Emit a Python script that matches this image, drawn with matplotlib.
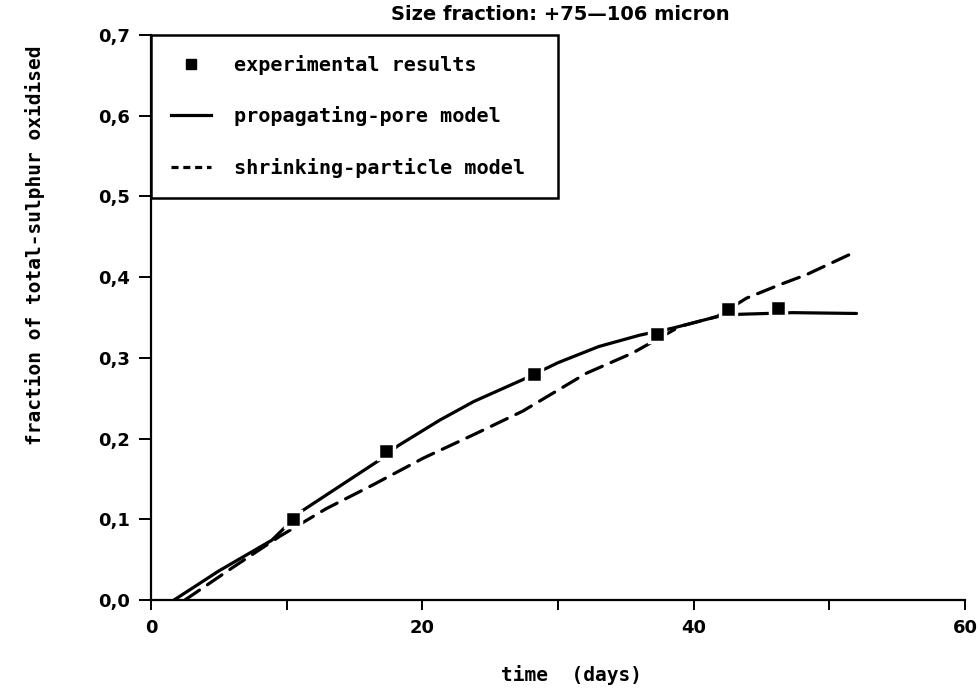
import matplotlib
matplotlib.use("Agg")
import matplotlib.pyplot as plt
from matplotlib.lines import Line2D

# experimental results
exp_days = [10.5, 17.3, 28.2, 37.3, 42.5, 46.2]
exp_frac = [0.100, 0.184, 0.280, 0.329, 0.360, 0.362]

# propagating-pore model (solid)
pore_days = [1.7, 5.0, 8.9, 11.1, 14.0, 16.9, 18.2, 21.3, 23.8, 27.4, 30.0, 33.0, 36.0, 38.5, 41.7, 43.4, 45.4, 47.3, 52.0]
pore_frac = [0.000, 0.036, 0.074, 0.110, 0.142, 0.174, 0.191, 0.223, 0.246, 0.273, 0.294, 0.314, 0.328, 0.337, 0.351, 0.354, 0.355, 0.356, 0.355]

# shrinking-particle model (dashed)
shrink_days = [2.5, 6.0, 9.5, 12.9, 16.4, 20.1, 23.8, 27.4, 32.1, 35.5, 39.0, 41.7, 43.9, 46.4, 48.3, 52.0]
shrink_frac = [0.000, 0.040, 0.079, 0.113, 0.143, 0.176, 0.205, 0.234, 0.281, 0.306, 0.339, 0.351, 0.374, 0.391, 0.403, 0.432]

x_ticks = [0, 10, 20, 30, 40, 50, 60]
x_ticklabels = ["0", "", "20", "", "40", "", "60"]
y_ticks = [0.0, 0.1, 0.2, 0.3, 0.4, 0.5, 0.6, 0.7]
y_ticklabels = ["0,0", "0,1", "0,2", "0,3", "0,4", "0,5", "0,6", "0,7"]

mono = "DejaVu Sans Mono"

fig = plt.figure(figsize=(9.8, 6.98), dpi=100)
ax = fig.add_axes([151 / 980, 1 - 600 / 698, (965 - 151) / 980, (600 - 35) / 698])

ax.plot(pore_days, pore_frac, color="black", lw=2.3, solid_capstyle="round")
ax.plot(shrink_days, shrink_frac, color="black", lw=2.3, linestyle=(0, (5.5, 3)),
        dash_capstyle="round")
ax.plot(exp_days, exp_frac, linestyle="none", marker="s", ms=12, mfc="black",
        mec="white", mew=2.5)

ax.set_xlim(0, 60)
ax.set_ylim(0, 0.7)
ax.set_xticks(x_ticks)
ax.set_xticklabels(x_ticklabels)
ax.set_yticks(y_ticks)
ax.set_yticklabels(y_ticklabels)

for s in ["top", "right"]:
    ax.spines[s].set_visible(False)
for s in ["left", "bottom"]:
    ax.spines[s].set_linewidth(1.6)
ax.tick_params(axis="y", direction="out", length=9, width=1.4, pad=6, labelsize=13)
ax.tick_params(axis="x", direction="out", length=7, width=1.4, pad=7, labelsize=13)
for lab in ax.get_xticklabels() + ax.get_yticklabels():
    lab.set_fontweight("bold")

handles = [
    Line2D([], [], linestyle="none", marker="s", ms=7, color="black"),
    Line2D([], [], color="black", lw=2.3),
    Line2D([], [], color="black", lw=2.3, linestyle=(0, (2.2, 1.5))),
]
labels = ["experimental results", "propagating-pore model", "shrinking-particle model"]
leg = ax.legend(handles, labels, loc="upper left",
                bbox_to_anchor=(0, 0, (558 - 151) / (965 - 151), 1), mode="expand",
                borderaxespad=0, frameon=True, fancybox=False, framealpha=1,
                handlelength=2.0, handletextpad=1.1, borderpad=1.0, labelspacing=1.55,
                prop={"family": mono, "weight": "bold", "size": 14.5})
leg.get_frame().set_edgecolor("black")
leg.get_frame().set_linewidth(1.8)

fig.text(560 / 980, 1 - 15 / 698, "Size fraction: +75\u2014106 micron",
         ha="center", va="center", fontsize=14, fontweight="bold")
fig.text(571 / 980, 1 - 675 / 698, "time  (days)", ha="center", va="center",
         family=mono, fontweight="bold", fontsize=14)
fig.text(35 / 980, 1 - 245 / 698, "fraction of total-sulphur oxidised", ha="center",
         va="center", rotation=90, family=mono, fontweight="bold", fontsize=14)

fig.savefig("out.png", dpi=100)
